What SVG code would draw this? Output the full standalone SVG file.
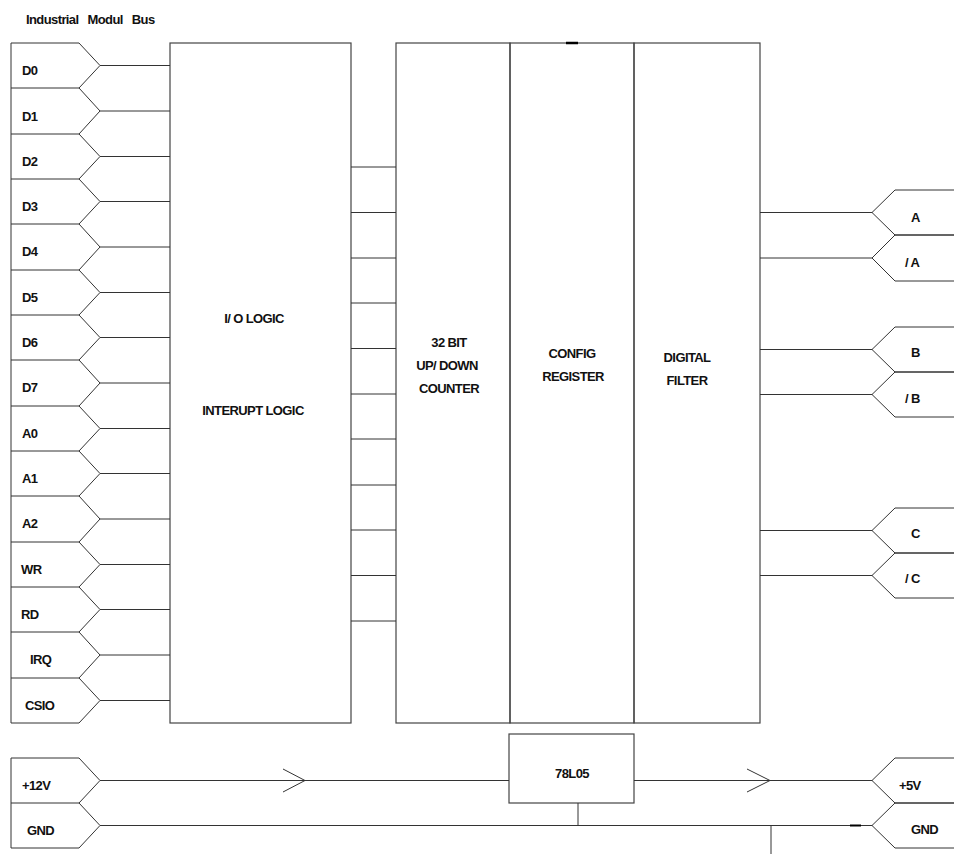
<svg xmlns="http://www.w3.org/2000/svg" width="954" height="854" viewBox="0 0 954 854">
<style>
.bg{fill:#fff}
.pin{fill:none;stroke:#333;stroke-width:1}
.box{fill:none;stroke:#444;stroke-width:1.2}
.w{fill:none;stroke:#333;stroke-width:1}
.t{font-family:"Liberation Sans",Arial,sans-serif;font-weight:bold;font-size:13px;letter-spacing:-0.6px;fill:#111}
.c{text-anchor:middle}
</style>
<rect class="bg" x="0" y="0" width="954" height="854"/>
<text class="t" x="26" y="24" style="word-spacing:6px">Industrial Modul Bus</text>

<g id="bus-pins">
<g id="pin-D0"><path class="pin" d="M11,88 V43 H79 L100,65.5 L79,88"/><text class="t" x="22" y="75">D0</text></g>
<g id="pin-D1"><path class="pin" d="M11,134 V88 H79 L100,111 L79,134"/><text class="t" x="22" y="121">D1</text></g>
<g id="pin-D2"><path class="pin" d="M11,179 V134 H79 L100,156.5 L79,179"/><text class="t" x="22" y="166">D2</text></g>
<g id="pin-D3"><path class="pin" d="M11,224 V179 H79 L100,201.5 L79,224"/><text class="t" x="22" y="211">D3</text></g>
<g id="pin-D4"><path class="pin" d="M11,270 V224 H79 L100,247 L79,270"/><text class="t" x="22" y="256">D4</text></g>
<g id="pin-D5"><path class="pin" d="M11,315 V270 H79 L100,292.5 L79,315"/><text class="t" x="22" y="302">D5</text></g>
<g id="pin-D6"><path class="pin" d="M11,360 V315 H79 L100,337.5 L79,360"/><text class="t" x="22" y="347">D6</text></g>
<g id="pin-D7"><path class="pin" d="M11,406 V360 H79 L100,383 L79,406"/><text class="t" x="22" y="392">D7</text></g>
<g id="pin-A0"><path class="pin" d="M11,451 V406 H79 L100,428.5 L79,451"/><text class="t" x="22" y="438">A0</text></g>
<g id="pin-A1"><path class="pin" d="M11,496 V451 H79 L100,473.5 L79,496"/><text class="t" x="22" y="483">A1</text></g>
<g id="pin-A2"><path class="pin" d="M11,542 V496 H79 L100,519 L79,542"/><text class="t" x="22" y="528">A2</text></g>
<g id="pin-WR"><path class="pin" d="M11,587 V542 H79 L100,564.5 L79,587"/><text class="t" x="21" y="574">WR</text></g>
<g id="pin-RD"><path class="pin" d="M11,632 V587 H79 L100,609.5 L79,632"/><text class="t" x="21" y="619">RD</text></g>
<g id="pin-IRQ"><path class="pin" d="M11,678 V632 H79 L100,655 L79,678"/><text class="t" x="30" y="664">IRQ</text></g>
<g id="pin-CSIO"><path class="pin" d="M11,723 V678 H79 L100,700.5 L79,723 H11"/><text class="t" x="25" y="710">CSIO</text></g>
</g>

<g id="io-logic"><rect class="box" x="170" y="43" width="181" height="680"/>
<text class="t c" x="254" y="323">I/ O LOGIC</text>
<text class="t c" x="253" y="415">INTERUPT LOGIC</text></g>

<g id="counter"><rect class="box" x="396" y="43" width="114" height="680"/>
<text class="t c" x="449" y="347">32 BIT</text>
<text class="t c" x="447" y="370">UP/ DOWN</text>
<text class="t c" x="449" y="393">COUNTER</text></g>

<g id="config"><rect class="box" x="510" y="43" width="124" height="680"/>
<line x1="566" y1="43" x2="578" y2="43" stroke="#000" stroke-width="2.5"/>
<text class="t c" x="572" y="358">CONFIG</text>
<text class="t c" x="573" y="381">REGISTER</text></g>

<g id="filter"><rect class="box" x="634" y="43" width="126" height="680"/>
<text class="t c" x="687" y="362">DIGITAL</text>
<text class="t c" x="687" y="385">FILTER</text></g>

<g id="out-pins">
<g id="pin-A"><path class="pin" d="M954,190 H895 L872,212.5 L895,235 H954"/><text class="t" x="911" y="222">A</text></g>
<g id="pin-nA"><path class="pin" d="M954,235 H895 L872,258 L895,281 H954"/><text class="t" x="905" y="267">/ A</text></g>
<g id="pin-B"><path class="pin" d="M954,327 H895 L872,349.5 L895,372 H954"/><text class="t" x="911" y="357">B</text></g>
<g id="pin-nB"><path class="pin" d="M954,372 H895 L872,394.5 L895,417 H954"/><text class="t" x="905" y="403">/ B</text></g>
<g id="pin-C"><path class="pin" d="M954,508 H895 L872,530.5 L895,553 H954"/><text class="t" x="911" y="538">C</text></g>
<g id="pin-nC"><path class="pin" d="M954,553 H895 L872,575.5 L895,598 H954"/><text class="t" x="905" y="583">/ C</text></g>
</g>

<g id="pin-12V"><path class="pin" d="M11,803 V758 H79 L100,780.5 L79,803"/><text class="t" x="22" y="790">+12V</text></g>
<g id="pin-GND-in"><path class="pin" d="M11,848 V803 H79 L100,825.5 L79,848 H11"/><text class="t" x="27" y="835">GND</text></g>
<g id="pin-5V"><path class="pin" d="M954,758 H895 L872,780.5 L895,803 H954"/><text class="t" x="899" y="790">+5V</text></g>
<g id="pin-GND-out"><path class="pin" d="M954,803 H895 L872,825.5 L895,848 H954"/><text class="t" x="911" y="834">GND</text></g>

<g id="regulator"><rect class="box" x="509" y="734" width="125" height="69"/>
<text class="t c" x="572" y="778">78L05</text></g>

<g id="connectors">
<path class="w" d="M100,65.5H170M100,111H170M100,156.5H170M100,201.5H170M100,247H170M100,292.5H170M100,337.5H170M100,383H170M100,428.5H170M100,473.5H170M100,519H170M100,564.5H170M100,609.5H170M100,655H170M100,700.5H170"/>
<path class="w" d="M351,167H396M351,212.5H396M351,258H396M351,303H396M351,348.5H396M351,394H396M351,439H396M351,485H396M351,530H396M351,575.5H396M351,621H396"/>
<path class="w" d="M760,212.5H872M760,258H872M760,349.5H872M760,394.5H872M760,530.5H872M760,575.5H872"/>
<path class="w" d="M100,780.5H509M283,769L305,780.5L283,792"/>
<path class="w" d="M634,780.5H872M747,769L770,780.5L747,792"/>
<path class="w" d="M100,825.5H872M578,803V825.5M771,825.5V854"/>
<line x1="850" y1="825.5" x2="861" y2="825.5" stroke="#000" stroke-width="2"/>
</g>
</svg>
